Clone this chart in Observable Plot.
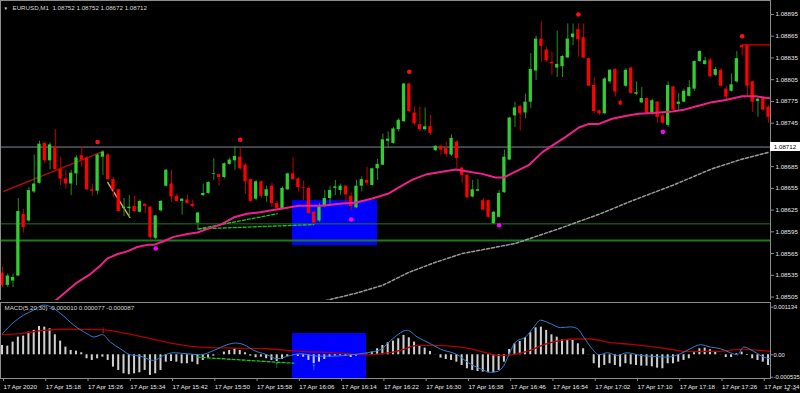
<!DOCTYPE html>
<html><head><meta charset="utf-8">
<script src="https://cdn.jsdelivr.net/npm/d3@7"></script>
<script src="https://cdn.jsdelivr.net/npm/@observablehq/plot@0.6"></script>
<style>
html,body{margin:0;padding:0;background:#000;}
#wrap{position:relative;width:800px;height:393px;background:#000;overflow:hidden;font-family:"Liberation Sans",Arial,sans-serif;}
#wrap svg{position:absolute;left:0;display:block;overflow:hidden;}
#bid{position:absolute;left:770px;width:30px;height:9px;background:#fff;color:#000;font:6.2px "Liberation Sans",Arial,sans-serif;line-height:9px;text-align:center;}
</style></head><body><div id="wrap"></div>
<script>
// ---- candles (EURUSD M1, bar 0 = 17 Apr 15:10) ----
const open = [1.08538,1.08521,1.08527,1.08534,1.08619,1.08610,1.08650,1.08662,1.08717,1.08693,1.08712,1.08681,1.08668,1.08661,1.08675,1.08700,1.08697,1.08653,1.08651,1.08698,1.08701,1.08667,1.08653,1.08627,1.08627,1.08630,1.08622,1.08633,1.08629,1.08586,1.08624,1.08658,1.08661,1.08644,1.08637,1.08639,1.08633,1.08607,1.08645,1.08648,1.08674,1.08674,1.08670,1.08688,1.08693,1.08698,1.08687,1.08667,1.08640,1.08664,1.08644,1.08658,1.08634,1.08627,1.08653,1.08675,1.08668,1.08656,1.08655,1.08622,1.08610,1.08631,1.08641,1.08655,1.08652,1.08658,1.08644,1.08628,1.08658,1.08666,1.08659,1.08682,1.08687,1.08720,1.08717,1.08736,1.08747,1.08799,1.08759,1.08743,1.08736,1.08740,1.08707,1.08713,1.08710,1.08701,1.08719,1.08683,1.08673,1.08643,1.08651,1.08638,1.08638,1.08606,1.08615,1.08649,1.08694,1.08755,1.08768,1.08759,1.08774,1.08817,1.08861,1.08846,1.08829,1.08821,1.08823,1.08835,1.08863,1.08874,1.08863,1.08834,1.08797,1.08762,1.08758,1.08802,1.08819,1.08775,1.08796,1.08821,1.08785,1.08773,1.08779,1.08759,1.08774,1.08755,1.08742,1.08795,1.08771,1.08774,1.08782,1.08792,1.08830,1.08826,1.08832,1.08811,1.08818,1.08792,1.08789,1.08802,1.08852,1.08852,1.08802,1.08775,1.08780,1.08767,1.08752];
const high = [1.08546,1.08537,1.08537,1.08641,1.08626,1.08656,1.08701,1.08720,1.08718,1.08718,1.08736,1.08698,1.08680,1.08680,1.08700,1.08713,1.08699,1.08661,1.08703,1.08707,1.08703,1.08670,1.08654,1.08641,1.08645,1.08644,1.08639,1.08634,1.08630,1.08618,1.08638,1.08681,1.08680,1.08647,1.08641,1.08646,1.08638,1.08622,1.08661,1.08664,1.08696,1.08675,1.08690,1.08697,1.08713,1.08710,1.08689,1.08668,1.08666,1.08665,1.08658,1.08662,1.08637,1.08657,1.08676,1.08697,1.08670,1.08665,1.08657,1.08624,1.08634,1.08652,1.08658,1.08666,1.08661,1.08659,1.08649,1.08666,1.08671,1.08684,1.08683,1.08695,1.08730,1.08733,1.08739,1.08751,1.08800,1.08800,1.08767,1.08767,1.08766,1.08756,1.08714,1.08715,1.08719,1.08729,1.08721,1.08684,1.08674,1.08666,1.08667,1.08641,1.08639,1.08623,1.08652,1.08708,1.08753,1.08774,1.08770,1.08785,1.08841,1.08865,1.08885,1.08850,1.08843,1.08872,1.08838,1.08882,1.08882,1.08882,1.08882,1.08835,1.08808,1.08763,1.08808,1.08819,1.08820,1.08777,1.08820,1.08822,1.08802,1.08794,1.08780,1.08778,1.08775,1.08758,1.08802,1.08796,1.08786,1.08792,1.08804,1.08831,1.08845,1.08836,1.08834,1.08822,1.08820,1.08796,1.08813,1.08844,1.08853,1.08854,1.08803,1.08779,1.08781,1.08769,1.08752];
const low = [1.08518,1.08518,1.08518,1.08533,1.08593,1.08608,1.08648,1.08661,1.08689,1.08680,1.08680,1.08659,1.08654,1.08645,1.08659,1.08684,1.08652,1.08644,1.08646,1.08673,1.08666,1.08643,1.08622,1.08616,1.08615,1.08622,1.08621,1.08620,1.08585,1.08584,1.08622,1.08657,1.08636,1.08636,1.08618,1.08633,1.08628,1.08599,1.08644,1.08647,1.08666,1.08658,1.08668,1.08687,1.08680,1.08680,1.08647,1.08636,1.08638,1.08641,1.08636,1.08628,1.08624,1.08625,1.08652,1.08666,1.08650,1.08638,1.08619,1.08606,1.08608,1.08628,1.08631,1.08645,1.08645,1.08632,1.08624,1.08627,1.08650,1.08658,1.08658,1.08666,1.08686,1.08710,1.08716,1.08733,1.08746,1.08760,1.08742,1.08733,1.08734,1.08728,1.08706,1.08700,1.08698,1.08699,1.08682,1.08662,1.08641,1.08642,1.08650,1.08624,1.08614,1.08605,1.08614,1.08648,1.08693,1.08739,1.08734,1.08751,1.08765,1.08804,1.08829,1.08829,1.08811,1.08808,1.08808,1.08834,1.08852,1.08836,1.08834,1.08795,1.08758,1.08756,1.08757,1.08799,1.08781,1.08769,1.08794,1.08785,1.08783,1.08772,1.08758,1.08756,1.08745,1.08743,1.08739,1.08761,1.08762,1.08773,1.08781,1.08789,1.08829,1.08825,1.08808,1.08809,1.08795,1.08776,1.08788,1.08800,1.08838,1.08781,1.08760,1.08753,1.08762,1.08745,1.08672];
const close = [1.08521,1.08534,1.08532,1.08623,1.08601,1.08652,1.08661,1.08716,1.08693,1.08715,1.08681,1.08668,1.08661,1.08676,1.08697,1.08694,1.08653,1.08651,1.08701,1.08705,1.08667,1.08653,1.08623,1.08629,1.08629,1.08623,1.08637,1.08630,1.08587,1.08617,1.08637,1.08680,1.08643,1.08637,1.08640,1.08634,1.08630,1.08621,1.08648,1.08663,1.08675,1.08670,1.08689,1.08694,1.08699,1.08682,1.08664,1.08637,1.08664,1.08644,1.08653,1.08634,1.08627,1.08655,1.08675,1.08667,1.08656,1.08655,1.08620,1.08607,1.08629,1.08641,1.08652,1.08657,1.08658,1.08646,1.08630,1.08658,1.08667,1.08662,1.08682,1.08688,1.08722,1.08723,1.08737,1.08749,1.08799,1.08761,1.08744,1.08736,1.08740,1.08731,1.08713,1.08708,1.08702,1.08724,1.08696,1.08673,1.08642,1.08653,1.08653,1.08625,1.08615,1.08622,1.08648,1.08698,1.08752,1.08766,1.08758,1.08774,1.08819,1.08861,1.08851,1.08831,1.08827,1.08826,1.08837,1.08861,1.08868,1.08860,1.08835,1.08796,1.08761,1.08758,1.08806,1.08818,1.08788,1.08770,1.08818,1.08786,1.08787,1.08779,1.08759,1.08776,1.08753,1.08745,1.08797,1.08763,1.08774,1.08789,1.08794,1.08830,1.08844,1.08831,1.08809,1.08819,1.08796,1.08781,1.08798,1.08834,1.08849,1.08796,1.08774,1.08778,1.08763,1.08753,1.08712];

// ---- moving averages (bar index, price) ----
const maBar   = [10.0,12.3,14.1,16.7,18.6,19.8,21.7,23.6,25.5,27.4,28.6,30.5,32.4,35.0,36.9,38.8,41.3,43.8,46.3,48.8,50.4,53.6,56.1,60.5,64.3,66.8,70.0,73.1,75.7,77.6,80.1,83.2,85.8,88.3,90.8,93.3,94.9,97.1,99.6,102.2,104.7,106.6,109.1,111.0,112.9,115.4,117.9,120.4,123.0,126.8,128.7,131.2,134.3,136.9,140.0,142.5,144.4,145.7];
const maPrice = [1.08500,1.08514,1.08525,1.08537,1.08549,1.08558,1.08564,1.08568,1.08574,1.08577,1.08577,1.08582,1.08588,1.08592,1.08594,1.08599,1.08605,1.08615,1.08620,1.08622,1.08624,1.08628,1.08631,1.08631,1.08634,1.08635,1.08641,1.08648,1.08659,1.08667,1.08674,1.08678,1.08681,1.08678,1.08675,1.08670,1.08670,1.08678,1.08687,1.08705,1.08717,1.08726,1.08739,1.08744,1.08744,1.08751,1.08755,1.08758,1.08759,1.08761,1.08763,1.08768,1.08774,1.08777,1.08782,1.08782,1.08780,1.08779];
const slowBar   = [61.1,66.8,71.9,76.9,82.0,87.0,92.1,97.1,105.6,113.2,119.2,126.8,134.3,139.4,145.1];
const slowPrice = [1.08500,1.08510,1.08521,1.08539,1.08553,1.08565,1.08572,1.08579,1.08600,1.08620,1.08638,1.08659,1.08682,1.08694,1.08705];

// ---- levels & drawings ----
const bid = 1.08712;
const greenLevels = [1.08606, 1.08583];
const resistBar = [140, 146], resistPrice = 1.08853;
const zoneBar = [54.9, 71.0], zonePrice = [1.08576, 1.08638];
const upFractalBar = [18, 45, 77, 109, 140];
const upFractalPrice = [1.08719, 1.08722, 1.08816, 1.08895, 1.08865];
const dnFractalBar = [29, 66, 94, 125];
const dnFractalPrice = [1.08572, 1.08612, 1.08604, 1.08733];
const trendBar = [0.25, 19.06], trendPrice = [1.08651, 1.08706];
const orangeBar = [19.93, 24.1], orangePrice = [1.08663, 1.08615];
const dashUpBar = [37.04, 52.0], dashUpPrice = [1.08599, 1.08620];
const dashLoBar = [37.04, 58.92], dashLoPrice = [1.08599, 1.08605];
const priceTicks = [1.08895,1.08865,1.08835,1.08805,1.08775,1.08745,1.08685,1.08655,1.08625,1.08595,1.08565,1.08535,1.08505];

// ---- MACD(5,20,30) panel ----
const hist = [0.000222,0.000206,0.000302,0.000421,0.000445,0.000540,0.000580,0.000675,0.000659,0.000619,0.000476,0.000326,0.000183,0.000103,0.000087,0.000048,-0.000095,-0.000135,-0.000095,-0.000056,-0.000135,-0.000294,-0.000373,-0.000453,-0.000476,-0.000453,-0.000429,-0.000373,-0.000492,-0.000453,-0.000373,-0.000175,-0.000159,-0.000175,-0.000214,-0.000214,-0.000175,-0.000238,-0.000135,-0.000079,-0.000032,0.000005,0.000064,0.000103,0.000143,0.000103,0.000048,-0.000032,-0.000071,-0.000056,-0.000095,-0.000135,-0.000159,-0.000111,-0.000040,0.000004,-0.000040,-0.000056,-0.000135,-0.000214,-0.000175,-0.000111,-0.000056,-0.000032,-0.000024,-0.000040,-0.000064,-0.000032,0.000003,0.000016,0.000064,0.000143,0.000222,0.000286,0.000326,0.000381,0.000461,0.000405,0.000302,0.000206,0.000159,0.000079,0.000004,-0.000079,-0.000111,-0.000135,-0.000175,-0.000254,-0.000333,-0.000373,-0.000397,-0.000413,-0.000429,-0.000429,-0.000373,-0.000175,0.000127,0.000262,0.000318,0.000405,0.000524,0.000643,0.000659,0.000580,0.000476,0.000421,0.000357,0.000341,0.000341,0.000262,0.000143,0.000004,-0.000214,-0.000318,-0.000254,-0.000214,-0.000254,-0.000294,-0.000214,-0.000238,-0.000254,-0.000270,-0.000270,-0.000286,-0.000318,-0.000333,-0.000214,-0.000214,-0.000175,-0.000135,-0.000095,0.000048,0.000143,0.000159,0.000119,0.000079,0.000004,-0.000064,-0.000064,0.000024,0.000064,-0.000016,-0.000095,-0.000135,-0.000175,-0.000254];
const blueBar = [0,2.2,4.0,5.9,7.8,9.1,11.0,13.5,16.0,17.3,18.9,20.4,22.3,24.2,26.1,28.6,30.5,32.4,35.0,37.5,40.0,42.5,44.1,45.7,47.6,50.1,52.0,54.5,56.4,59.6,62.7,65.9,69.0,71.6,74.0,76.6,78.5,81.0,83.5,84.8,86.1,88.0,90.5,92.4,93.6,94.9,95.8,97.1,99.0,100.6,101.8,103.7,105.6,107.5,108.8,110.0,111.6,112.9,114.5,116.4,118.2,120.8,123.3,125.8,128.3,130.2,132.1,134.0,135.9,137.8,139.1,140.3,142.2,144.1,145.4];
const blueVal = [0.000504,0.000784,0.000944,0.001064,0.001184,0.001144,0.000984,0.000704,0.000504,0.000424,0.000480,0.000304,0.000144,0.000000,-0.000032,-0.000136,-0.000016,0.000048,0.000024,0.000000,0.000104,0.000240,0.000280,0.000240,0.000104,0.000000,-0.000096,-0.000016,0.000024,-0.000032,-0.000032,0.000000,0.000048,0.000128,0.000400,0.000584,0.000424,0.000264,0.000104,0.000064,0.000000,-0.000176,-0.000336,-0.000416,-0.000400,-0.000256,-0.000016,0.000304,0.000424,0.000664,0.000824,0.000744,0.000648,0.000664,0.000624,0.000424,0.000144,0.000000,0.000048,-0.000016,0.000048,-0.000016,-0.000040,-0.000056,0.000024,0.000144,0.000240,0.000184,0.000144,0.000048,0.000000,0.000184,0.000080,-0.000056,-0.000096];
const redBar = [0,3.4,7.8,12.2,18.5,23.6,28.0,32.4,37.5,43.8,50.1,56.4,62.7,69.0,75.3,78.5,81.6,84.8,88.0,91.1,93.6,96.2,99.3,102.5,105.6,108.8,111.3,114.5,119.5,125.8,129.6,135.3,139.7,145.4];
const redVal = [0.000480,0.000504,0.000584,0.000608,0.000600,0.000504,0.000384,0.000264,0.000184,0.000160,0.000144,0.000080,0.000048,0.000000,0.000104,0.000224,0.000224,0.000208,0.000160,0.000064,-0.000016,0.000000,0.000080,0.000240,0.000344,0.000376,0.000376,0.000304,0.000240,0.000144,0.000080,0.000080,0.000128,0.000080];
const macdZoneBar = [54.9, 68.9], macdZoneVal = [-0.000565, 0.000507];
const macdDashBar = [36.85, 51.9, 55.14], macdDashVal = [-0.000057, -0.000176, -0.000200];
const arrowDnBar = [19], arrowDnVal = [0.000603];
const arrowUpBar = [51.9, 58.9], arrowUpVal = [-0.000231, -0.000279];
const macdTicks = [0.001134, 0, -0.000535];
const macdTickLabels = ["0.001134", "0.00", "-0.000535"];
const timeTicks = [0,8,16,24,32,40,48,56,64,72,80,88,96,104,112,120,128,136,144];
const timeLabels = ["17 Apr 2020","17 Apr 15:18","17 Apr 15:26","17 Apr 15:34","17 Apr 15:42","17 Apr 15:50","17 Apr 15:58","17 Apr 16:06","17 Apr 16:14","17 Apr 16:22","17 Apr 16:30","17 Apr 16:38","17 Apr 16:46","17 Apr 16:54","17 Apr 17:02","17 Apr 17:10","17 Apr 17:18","17 Apr 17:26","17 Apr 17:34"];
const header = "EURUSD,M1  1.08752 1.08752 1.08672 1.08712";
const macdTitle = "MACD(5,20,30) -0.000010 0.000077 -0.000087";

// ---- build ----
const bars = open.map((o, i) => ({i, o, h: high[i], l: low[i], c: close[i], up: close[i] >= o}));
const pts = (xs, ys) => xs.map((x, k) => ({x, y: Array.isArray(ys) ? ys[k] : ys}));
const X = {domain: [-0.38, 145.37]};
const FONT = "Liberation Sans, Arial, sans-serif";
const TXT = "#e8e8e8", AX = "#8c8c8c";
const FS = 6.2;
const W = 0.31;

const main = Plot.plot({
  width: 800, height: 300,
  marginLeft: 0, marginRight: 30, marginTop: 0, marginBottom: 0,
  style: {background: "transparent", color: TXT, fontFamily: FONT, fontSize: FS + "px"},
  x: {...X, axis: null},
  y: {domain: [1.085002, 1.089143]},
  marks: [
    Plot.rect([0], {x1: zoneBar[0], x2: zoneBar[1], y1: zonePrice[0], y2: zonePrice[1], fill: "#0000ff"}),
    Plot.ruleY(greenLevels, {stroke: "#1d7a1d", strokeWidth: (d, k) => k ? 2 : 1}),
    Plot.ruleY([bid], {stroke: "#7d8a98"}),
    Plot.line(pts(slowBar, slowPrice), {x: "x", y: "y", stroke: "#9a9a9a", strokeDasharray: "3,2", clip: true}),
    Plot.line(pts(trendBar, trendPrice), {x: "x", y: "y", stroke: "#a01010", strokeWidth: 1.5}),
    Plot.line(pts(orangeBar, orangePrice), {x: "x", y: "y", stroke: "#d9a066", strokeWidth: 1.5}),
    Plot.line(pts(dashUpBar, dashUpPrice), {x: "x", y: "y", stroke: "#22c022", strokeDasharray: "3,2", strokeWidth: 1.3}),
    Plot.line(pts(dashLoBar, dashLoPrice), {x: "x", y: "y", stroke: "#22c022", strokeDasharray: "3,2", strokeWidth: 1.3}),
    Plot.ruleY([resistPrice], {x1: resistBar[0], x2: resistBar[1], stroke: "#e00000", strokeWidth: 1.3, clip: true}),
    Plot.ruleX(bars, {x: "i", y1: "l", y2: "h", stroke: d => d.up ? "#1f8f1f" : "#c00000", clip: true}),
    Plot.rect(bars, {x1: d => d.i - W, x2: d => d.i + W, y1: "o", y2: "c", fill: d => d.up ? "#32cd32" : "#ff0000", clip: true}),
    Plot.line(pts(maBar, maPrice), {x: "x", y: "y", stroke: "#f0208c", strokeWidth: 2, clip: true}),
    Plot.dot(pts(upFractalBar, upFractalPrice), {x: "x", y: "y", r: 2.3, fill: "#ff1010"}),
    Plot.dot(pts(dnFractalBar, dnFractalPrice), {x: "x", y: "y", r: 2.3, fill: "#ff00ff"}),
    Plot.frame({stroke: AX}),
    Plot.axisY(priceTicks, {anchor: "right", tickSize: 3, tickPadding: 2, stroke: AX, fill: TXT, fontSize: FS, tickFormat: d => d.toFixed(5)}),
    Plot.text([header], {frameAnchor: "top-left", dx: 12, dy: 5, textAnchor: "start", lineAnchor: "top", fill: "#d8d8d8", fontSize: FS}),
    Plot.text(["\u25BC"], {frameAnchor: "top-left", dx: 3, dy: 6, textAnchor: "start", lineAnchor: "top", fill: "#d8d8d8", fontSize: 4.5})
  ]
});
main.style.top = "0px";

const macd = Plot.plot({
  width: 800, height: 93,
  marginLeft: 0, marginRight: 30, marginTop: 2, marginBottom: 15,
  style: {background: "transparent", color: TXT, fontFamily: FONT, fontSize: FS + "px"},
  x: X,
  y: {domain: [-0.000565, 0.001246]},
  marks: [
    Plot.rect([0], {x1: macdZoneBar[0], x2: macdZoneBar[1], y1: macdZoneVal[0], y2: macdZoneVal[1], fill: "#0000ff"}),
    Plot.rect(hist.map((v, i) => ({i, v})), {x1: d => d.i - 0.19, x2: d => d.i + 0.19, y1: 0, y2: "v", fill: "#d0d0d0", clip: true}),
    Plot.line(pts(macdDashBar, macdDashVal), {x: "x", y: "y", stroke: "#22c022", strokeDasharray: "3,2", strokeWidth: 1.3}),
    Plot.line(pts(redBar, redVal), {x: "x", y: "y", stroke: "#b00000", strokeWidth: 1.3, curve: "monotone-x", clip: true}),
    Plot.line(pts(blueBar, blueVal), {x: "x", y: "y", stroke: "#2f7fd0", strokeWidth: 1, curve: "monotone-x", clip: true}),
    Plot.text(pts(arrowDnBar, arrowDnVal), {x: "x", y: "y", text: () => "\u2193", fill: "#ff2020", fontSize: 10, fontWeight: "bold"}),
    Plot.text(pts(arrowUpBar, arrowUpVal), {x: "x", y: "y", text: () => "\u2191", fill: "#22e022", fontSize: 10, fontWeight: "bold"}),
    Plot.frame({stroke: AX}),
    Plot.axisY(macdTicks, {anchor: "right", tickSize: 2, tickPadding: 1, stroke: AX, fill: TXT, fontSize: 5.8, tickFormat: (d, k) => macdTickLabels[k]}),
    Plot.axisX(timeTicks, {anchor: "bottom", tickSize: 3, tickPadding: 3, stroke: AX, fill: TXT, fontSize: FS, textAnchor: "start", dx: 1, tickFormat: (d, k) => timeLabels[k]}),
    Plot.text([macdTitle], {frameAnchor: "top-left", dx: 4, dy: 3, textAnchor: "start", lineAnchor: "top", fill: "#d8d8d8", fontSize: FS})
  ]
});
macd.style.top = "300px";

const wrap = document.getElementById("wrap");
wrap.appendChild(main);
wrap.appendChild(macd);
const b = document.createElement("div");
b.id = "bid";
b.textContent = bid.toFixed(5);
b.style.top = (main.scale("y").apply(bid) - 4.5) + "px";
wrap.appendChild(b);
</script></body></html>
